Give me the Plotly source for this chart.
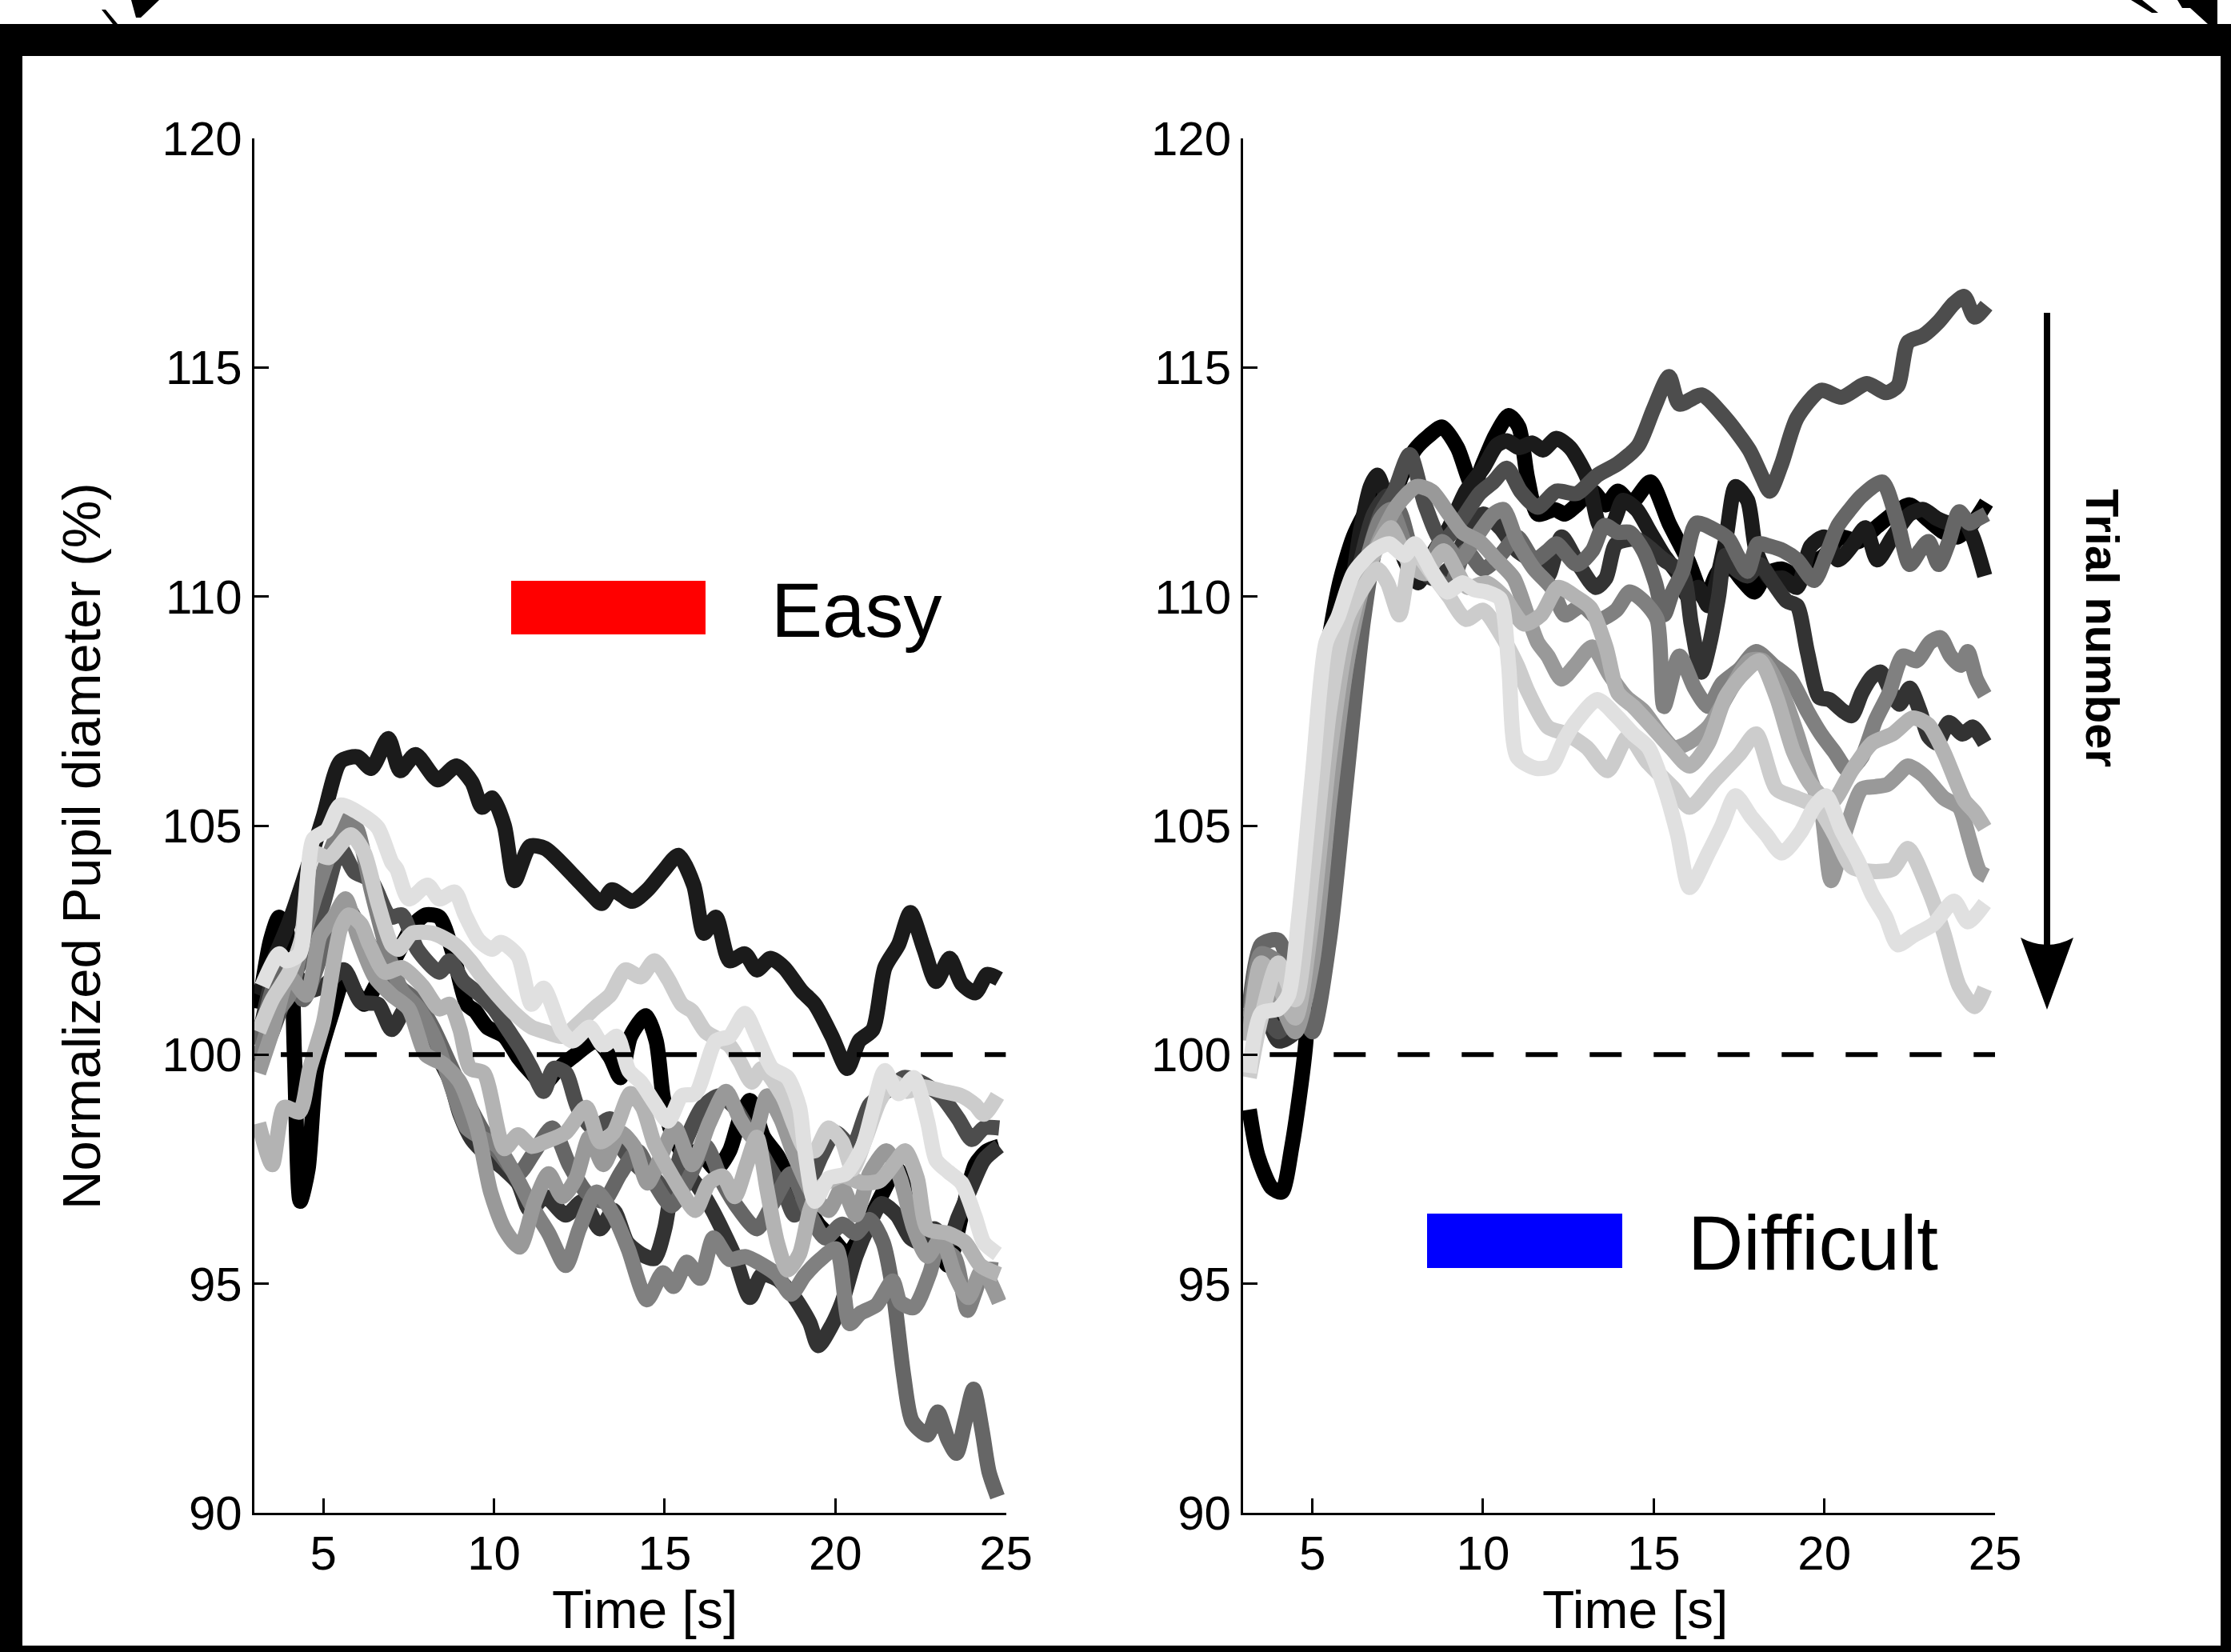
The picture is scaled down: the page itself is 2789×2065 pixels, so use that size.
import plotly.graph_objects as go

W, H = 2789, 2065

TRIAL_COLORS = ["#000000", "#1b1b1b", "#333333", "#4d4d4d", "#666666",
                "#808080", "#999999", "#b3b3b3", "#cccccc", "#e0e0e0"]

X_TICKS = [5, 10, 15, 20, 25]
Y_TICKS = [90, 95, 100, 105, 110, 115, 120]
X_RANGE = [2.97, 25.0]
Y_RANGE = [90, 120]
BASELINE = 100
BASELINE_T = [3.75, 25.0]

PANEL_TITLES = ["Easy", "Difficult"]
PANEL_COLORS = ["#ff0000", "#0000ff"]
X_TITLE = "Time [s]"
Y_TITLE = "Normalized Pupil diameter (%)"
ARROW_TEXT = "Trial number"

# ---------------- Easy condition (10 trials, dark -> light) ----------------
EASY_T0 = [3.1, 3.45, 3.7, 4.0, 4.15, 4.32, 4.55, 4.8, 5.25, 5.65, 5.95, 6.2, 6.6, 7.1, 7.6, 8.0, 8.4, 8.8, 9.2, 9.45,
           9.8, 10.3, 10.7, 11.1, 11.45, 11.9, 12.3, 13.0, 13.4, 13.7, 14.0, 14.45, 14.75, 14.95, 15.2, 15.6, 16.0, 16.5,
           16.9, 17.2, 17.5, 17.9, 18.3, 18.7, 19.1, 19.5, 19.9, 20.35, 20.7, 21.0, 21.4, 21.8, 22.2, 22.6, 23.0, 23.3,
           23.7, 24.1, 24.45, 24.8]
EASY_V0 = [101.0, 102.5, 103.0, 102.5, 100.0, 96.8, 97.5, 99.7, 100.9, 101.75, 101.35, 101.1, 101.6, 102.1, 102.8, 103.05,
           103.0, 102.2, 101.1, 100.95, 100.6, 100.4, 99.95, 99.6, 99.35, 99.7, 99.95, 100.3, 99.95, 99.5, 100.4, 100.85,
           100.3, 99.1, 98.3, 97.8, 97.9, 97.5, 97.9, 98.6, 99.0, 98.2, 97.8, 97.2, 96.8, 96.3, 96.0, 95.65, 96.0, 96.4,
           97.0, 97.5, 97.0, 96.3, 95.8, 95.4, 96.5, 97.6, 97.9, 98.0]

EASY_T1 = [3.1, 3.5, 4.0, 4.5, 5.0, 5.5, 6.0, 6.4, 6.9, 7.25, 7.7, 8.35, 8.9, 9.35, 9.65, 9.95, 10.3, 10.6, 11.05, 11.5,
           11.95, 12.4, 12.85, 13.15, 13.45, 14.05, 14.5, 14.95, 15.4, 15.85, 16.15, 16.5, 16.9, 17.35, 17.7, 18.1, 18.5,
           19.0, 19.4, 19.9, 20.35, 20.7, 21.1, 21.45, 21.85, 22.2, 22.6, 22.95, 23.35, 23.7, 24.1, 24.45, 24.8]
EASY_V1 = [101.3, 102.0, 102.9, 104.0, 105.2, 106.4, 106.5, 106.25, 106.9, 106.2, 106.55, 106.0, 106.3, 105.95, 105.4,
           105.6, 105.0, 103.8, 104.55, 104.5, 104.2, 103.85, 103.5, 103.3, 103.6, 103.35, 103.6, 104.0, 104.35, 103.7,
           102.65, 103.0, 102.05, 102.2, 101.85, 102.1, 101.9, 101.4, 101.1, 100.4, 99.7, 100.3, 100.55, 101.9, 102.4,
           103.1, 102.3, 101.6, 102.1, 101.55, 101.35, 101.75, 101.65]

EASY_T2 = [3.1, 3.6, 4.0, 4.5, 5.0, 5.6, 6.1, 6.6, 7.0, 7.45, 7.75, 8.1, 8.7, 9.0, 9.35, 9.8, 10.3, 10.7, 11.05, 11.5,
           12.1, 12.6, 13.1, 13.5, 13.9, 14.3, 14.7, 15.0, 15.2, 15.5, 15.9, 16.4, 17.05, 17.5, 17.85, 18.3, 18.8, 19.25,
           19.5, 19.9, 20.2, 20.6, 21.0, 21.35, 21.8, 22.2, 22.5, 22.9, 23.3, 23.6, 23.95, 24.35, 24.8]
EASY_V2 = [100.3, 101.8, 102.0, 101.4, 101.5, 101.85, 101.15, 101.1, 100.55, 101.05, 100.8, 100.3, 99.45, 98.7, 98.15,
           97.8, 97.5, 97.2, 96.6, 96.9, 96.5, 96.8, 96.2, 96.6, 95.9, 95.65, 95.55, 96.2, 97.0, 97.5, 97.2, 96.6, 95.6,
           94.7, 95.2, 95.1, 94.7, 94.15, 93.65, 94.1, 94.6, 95.6, 96.3, 96.75, 96.5, 96.0, 95.9, 96.2, 95.9, 96.45,
           97.05, 97.7, 98.0]

EASY_T3 = [3.1, 3.5, 4.0, 4.5, 5.0, 5.5, 5.9, 6.4, 6.95, 7.3, 7.75, 8.4, 8.7, 9.1, 9.6, 10.0, 10.4, 10.8, 11.1, 11.45,
           11.75, 12.1, 12.45, 12.9, 13.4, 13.8, 14.3, 14.7, 15.1, 15.5, 16.1, 16.6, 17.05, 17.5, 18.1, 18.5, 18.8, 19.2,
           19.6, 20.0, 20.5, 21.0, 21.5, 22.0, 22.5, 23.1, 23.6, 24.0, 24.35, 24.8]
EASY_V3 = [99.8, 100.5, 101.5, 102.3, 103.3, 104.5, 104.0, 103.8, 103.0, 103.05, 102.3, 101.8, 102.05, 101.6, 101.3,
           101.0, 100.55, 100.1, 99.7, 99.2, 99.7, 99.6, 98.85, 98.4, 98.6, 97.9, 97.5, 97.3, 97.0, 97.9, 98.85, 99.1,
           98.85, 98.3, 97.5, 97.0, 96.5, 97.1, 97.8, 98.3, 98.0, 98.9, 99.2, 99.5, 99.4, 99.1, 98.6, 98.15, 98.4, 98.4]

EASY_T4 = [3.1, 3.6, 4.0, 4.4, 5.0, 5.6, 6.2, 6.7, 7.2, 7.7, 8.2, 8.7, 9.2, 9.7, 10.2, 10.7, 11.2, 11.7, 12.2, 12.7,
           13.2, 13.7, 14.2, 14.7, 15.2, 15.7, 16.2, 16.7, 17.2, 17.7, 18.2, 18.7, 19.2, 19.7, 20.2, 20.6, 21.0, 21.4,
           21.7, 22.0, 22.25, 22.7, 23.0, 23.3, 23.55, 23.8, 24.05, 24.3, 24.5, 24.75]
EASY_V4 = [100.2, 101.6, 101.9, 101.2, 102.3, 103.3, 102.6, 102.0, 101.5, 101.2, 100.6, 99.8, 99.0, 98.3, 97.8, 97.4,
           97.9, 98.4, 97.6, 97.0, 96.8, 97.4, 97.9, 97.2, 96.7, 97.3, 98.0, 97.2, 96.6, 96.2, 96.8, 97.4, 96.6, 96.0,
           96.3, 96.1, 96.4, 95.9, 94.8, 93.0, 92.0, 91.7, 92.2, 91.6, 91.3, 92.0, 92.7, 91.8, 90.9, 90.35]

EASY_T5 = [3.1, 3.5, 4.0, 4.5, 5.0, 5.4, 5.7, 6.0, 6.4, 6.9, 7.3, 7.8, 8.3, 8.8, 9.2, 9.6, 10.1, 10.6, 11.1, 11.6,
           12.1, 12.5, 13.0, 13.5, 13.93, 14.48, 14.95, 15.26, 15.65, 16.04, 16.43, 16.9, 17.37, 18.0, 18.31, 18.7,
           19.1, 19.56, 20.03, 20.42, 20.74, 21.21, 21.68, 21.9, 22.3, 22.77, 23.0, 23.48, 23.87, 24.1, 24.34, 24.75]
EASY_V5 = [99.9, 100.8, 101.3, 102.8, 104.0, 104.8, 105.2, 104.9, 103.6, 102.2, 101.4, 101.0, 100.3, 99.2, 98.4, 98.2,
           98.0, 97.4, 96.7, 96.1, 95.4, 96.2, 97.0, 96.5, 95.76, 94.65, 95.24, 94.94, 95.47, 95.12, 96.0, 95.53, 95.59,
           95.35, 95.18, 94.77, 95.18, 95.53, 95.76, 94.13, 94.36, 94.54, 95.06, 94.6, 94.48, 95.24, 95.76, 95.59,
           94.42, 94.83, 95.3, 95.3]

EASY_T6 = [3.1, 3.5, 4.0, 4.5, 4.9, 5.3, 5.65, 6.0, 6.5, 7.0, 7.5, 8.0, 8.5, 9.0, 9.5, 9.9, 10.3, 10.75, 11.2, 11.6,
           12.0, 12.4, 12.8, 13.2, 13.7, 14.1, 14.5, 14.9, 15.3, 15.8, 16.3, 16.8, 17.2, 17.6, 18.0, 18.4, 18.8, 19.3,
           19.8, 20.2, 20.6, 21.0, 21.5, 21.9, 22.3, 22.7, 23.1, 23.5, 23.9, 24.3, 24.8]
EASY_V6 = [99.6, 100.5, 101.7, 101.3, 102.6, 103.0, 103.4, 102.6, 101.7, 101.3, 101.0, 100.0, 99.8, 99.4, 98.4, 97.0,
           96.2, 95.8, 96.8, 97.4, 96.9, 97.3, 98.2, 97.6, 98.3, 98.0, 97.2, 97.8, 98.4, 97.6, 98.5, 99.2, 98.6, 98.2,
           99.1, 98.6, 97.8, 97.0, 96.6, 97.1, 96.5, 97.4, 97.9, 97.3, 96.2, 95.6, 96.0, 95.2, 94.7, 95.3, 94.6]

EASY_T7 = [3.1, 3.5, 3.85, 4.3, 4.6, 5.0, 5.5, 5.75, 6.1, 6.35, 6.8, 7.3, 7.9, 8.4, 8.7, 9.0, 9.3, 9.7, 10.3, 10.7,
           11.1, 11.5, 12.1, 12.7, 13.1, 13.5, 14.0, 14.35, 14.7, 15.1, 15.5, 15.9, 16.3, 16.7, 17.05, 17.4, 17.7, 18.0,
           18.3, 18.6, 18.95, 19.25, 19.55, 20.2, 20.8, 21.3, 21.75, 22.05, 22.4, 22.7, 23.3, 23.8, 24.25, 24.8]
EASY_V7 = [98.5, 97.6, 98.85, 98.75, 99.7, 100.7, 102.75, 103.05, 102.85, 102.4, 101.8, 101.9, 101.5, 101.0, 101.1,
           100.55, 99.7, 99.6, 97.95, 98.25, 98.0, 98.1, 98.3, 98.85, 98.1, 98.3, 99.15, 98.85, 98.05, 97.5, 97.0, 96.6,
           97.2, 97.35, 96.9, 97.6, 98.2, 97.05, 95.9, 95.3, 95.65, 96.6, 97.1, 97.35, 97.2, 97.25, 97.65, 97.9, 97.3,
           96.2, 96.1, 95.9, 95.4, 95.2]

EASY_T8 = [3.1, 3.5, 4.0, 4.35, 4.7, 5.15, 5.8, 6.2, 6.6, 7.0, 7.2, 7.6, 8.2, 8.85, 9.3, 9.65, 10.1, 10.6, 11.1, 11.5,
           12.0, 12.5, 13.0, 13.4, 13.85, 14.3, 14.7, 15.1, 15.5, 15.8, 16.2, 16.9, 17.2, 17.55, 17.85, 18.45, 18.8,
           19.1, 19.4, 19.8, 20.2, 20.5, 20.9, 21.3, 21.7, 22.1, 22.55, 23.15, 23.7, 24.1, 24.35, 24.75]
EASY_V8 = [100.5, 101.2, 101.8, 102.5, 104.4, 104.3, 104.8, 104.4, 103.3, 102.4, 102.3, 102.65, 102.65, 102.4, 102.05,
           101.7, 101.3, 100.9, 100.6, 100.5, 100.4, 100.7, 101.05, 101.3, 101.85, 101.7, 102.05, 101.65, 101.1, 100.95,
           100.5, 100.2, 99.85, 99.4, 99.7, 99.1, 98.45, 97.95, 97.9, 98.4, 98.1, 97.5, 98.2, 99.0, 99.4, 99.2, 99.3,
           99.2, 99.1, 98.9, 98.7, 99.1]

EASY_T9 = [3.2, 3.7, 3.9, 4.3, 4.7, 5.1, 5.5, 6.2, 6.6, 7.0, 7.15, 7.5, 8.05, 8.4, 8.85, 9.15, 9.55, 9.95, 10.2, 10.7,
           11.1, 11.45, 12.0, 12.3, 12.8, 13.2, 13.6, 13.95, 14.3, 14.7, 15.1, 15.5, 15.9, 16.5, 16.9, 17.35, 17.7,
           18.15, 18.6, 18.95, 19.1, 19.4, 19.8, 20.3, 20.8, 21.1, 21.45, 21.85, 22.3, 22.7, 22.95, 23.3, 23.7, 24.1,
           24.35, 24.75]
EASY_V9 = [101.5, 102.2, 102.05, 102.2, 104.7, 104.9, 105.45, 105.2, 104.95, 104.2, 104.05, 103.4, 103.7, 103.4,
           103.55, 103.05, 102.5, 102.3, 102.45, 102.15, 101.1, 101.45, 100.5, 100.3, 100.6, 100.2, 100.4, 99.65, 99.4,
           98.95, 98.55, 99.1, 99.15, 100.3, 100.4, 100.9, 100.4, 99.7, 99.5, 98.85, 97.95, 96.8, 97.3, 97.4, 98.0,
           98.8, 99.65, 99.15, 99.5, 98.55, 97.7, 97.45, 97.2, 96.45, 95.9, 95.65]

# ---------------- Difficult condition (10 trials, dark -> light) ----------------
DIFF_T0 = [3.15, 3.4, 3.8, 4.1, 4.4, 4.8, 5.1, 5.4, 5.8, 6.2, 6.6, 7.0, 7.3, 7.6, 8.0, 8.4, 8.8, 9.25, 9.7, 10.0,
           10.35, 10.75, 11.05, 11.3, 11.6, 12.1, 12.4, 12.75, 13.2, 13.6, 13.95, 14.35, 14.9, 15.45, 16.0, 16.5, 16.9,
           17.3, 17.6, 17.95, 18.3, 18.75, 19.2, 19.6, 20.0, 20.5, 21.0, 21.5, 22.0, 22.5, 23.0, 23.5, 23.9, 24.35,
           24.75]
DIFF_V0 = [98.8, 97.8, 97.1, 97.0, 98.0, 100.2, 104.5, 108.6, 110.3, 111.3, 111.9, 112.3, 112.0, 112.6, 113.2, 113.5,
           113.7, 113.25, 112.4, 112.9, 113.5, 113.95, 113.7, 112.6, 111.8, 111.9, 111.8, 112.0, 112.3, 112.0, 112.3,
           112.05, 112.5, 111.6, 110.8, 109.95, 110.55, 110.6, 110.35, 110.1, 110.5, 110.6, 110.45, 110.7, 110.9,
           111.3, 111.2, 111.5, 111.8, 112.0, 111.7, 111.4, 111.3, 111.6, 112.05]

DIFF_T1 = [3.15, 3.5, 4.0, 4.5, 4.9, 5.2, 5.4, 5.8, 6.1, 6.4, 6.7, 6.9, 7.3, 7.7, 8.1, 8.5, 9.0, 9.5, 10.0, 10.4, 10.7,
           11.05, 11.45, 11.75, 12.15, 12.55, 12.85, 13.1, 13.45, 13.8, 14.1, 14.5, 14.9, 15.3, 15.7, 16.0, 16.3, 16.6,
           17.1, 17.4, 17.75, 18.0, 18.4, 18.8, 19.2, 19.6, 20.0, 20.4, 20.8, 21.2, 21.55, 22.0, 22.5, 22.9, 23.3,
           23.7, 24.05, 24.35, 24.7]
DIFF_V1 = [100.8, 101.6, 101.0, 100.6, 102.5, 106.0, 108.6, 109.3, 110.0, 111.4, 112.4, 112.65, 111.8, 110.8, 110.3,
           110.9, 111.5, 112.3, 112.8, 113.3, 113.4, 113.25, 113.35, 113.2, 113.45, 113.25, 112.9, 112.5, 111.5, 111.6,
           112.1, 111.9, 111.4, 110.9, 110.5, 110.0, 110.2, 109.8, 111.2, 112.4, 112.1, 111.0, 110.4, 110.4, 110.2,
           111.1, 111.3, 110.8, 111.1, 111.5, 110.8, 111.3, 111.8, 111.9, 111.7, 111.6, 111.7, 111.3, 110.45]

DIFF_T2 = [3.15, 3.5, 4.0, 4.5, 5.0, 5.5, 6.0, 6.4, 6.8, 7.2, 7.6, 8.0, 8.5, 9.0, 9.5, 10.0, 10.5, 11.0, 11.6, 11.9,
           12.3, 12.8, 13.3, 13.6, 13.9, 14.5, 15.3, 15.85, 16.1, 16.4, 16.65, 16.9, 17.1, 17.4, 17.75, 18.1, 18.5,
           18.9, 19.2, 19.5, 19.85, 20.15, 20.55, 20.8, 21.1, 21.4, 21.65, 21.9, 22.2, 22.5, 22.8, 23.05, 23.3, 23.65,
           24.05, 24.35, 24.7]
DIFF_V2 = [100.5, 101.2, 100.3, 100.5, 102.5, 106.0, 109.0, 110.7, 111.8, 112.2, 111.5, 110.8, 110.4, 110.6, 111.3,
           111.8, 111.5, 111.0, 110.7, 110.45, 111.3, 110.7, 110.2, 110.4, 111.15, 111.25, 110.8, 110.5, 109.4, 108.35,
           109.0, 110.0, 110.9, 110.6, 110.45, 110.7, 110.3, 109.9, 109.8, 108.8, 107.8, 107.75, 107.5, 107.4, 107.9,
           108.25, 108.35, 108.0, 107.65, 108.0, 107.5, 106.95, 106.8, 107.25, 107.0, 107.15, 106.8]

DIFF_T3 = [3.15, 3.5, 4.0, 4.5, 5.0, 5.5, 6.0, 6.5, 7.0, 7.4, 7.85, 8.3, 8.8, 9.3, 9.9, 10.3, 10.7, 11.1, 11.6, 12.15,
           12.75, 13.35, 13.95, 14.55, 15.0, 15.45, 15.75, 16.4, 17.1, 17.8, 18.15, 18.4, 18.75, 19.2, 19.9, 20.5,
           21.25, 21.8, 22.15, 22.45, 22.9, 23.35, 23.8, 24.1, 24.4, 24.75]
DIFF_V3 = [100.5, 101.0, 100.5, 101.0, 102.5, 105.5, 108.5, 110.5, 111.8, 112.3, 113.1, 112.0, 111.2, 111.6, 112.25,
           112.5, 112.8, 112.3, 111.95, 112.3, 112.25, 112.65, 112.9, 113.3, 114.1, 114.8, 114.2, 114.4, 113.9, 113.2,
           112.65, 112.3, 112.9, 113.9, 114.5, 114.35, 114.65, 114.45, 114.6, 115.55, 115.7, 116.0, 116.4, 116.55,
           116.1, 116.35]

DIFF_T4 = [3.15, 3.5, 4.0, 4.5, 5.0, 5.5, 6.0, 6.5, 6.9, 7.5, 8.0, 8.5, 9.0, 9.5, 10.0, 10.5, 11.0, 11.5, 11.9, 12.15,
           12.75, 13.2, 13.55, 13.95, 14.3, 14.7, 15.05, 15.3, 15.55, 15.85, 16.25, 16.8, 17.2, 17.45, 17.75, 18.05,
           18.4, 18.8, 19.2, 19.7, 20.05, 20.4, 20.75, 21.1, 21.7, 22.15, 22.5, 22.8, 23.05, 23.35, 23.65, 23.95,
           24.25, 24.5, 24.75]
DIFF_V4 = [101.0, 102.4, 102.5, 101.5, 100.5, 102.5, 106.0, 109.5, 111.2, 111.9, 110.8, 110.5, 110.2, 111.0, 110.6,
           110.9, 111.3, 110.8, 111.0, 111.15, 110.7, 111.0, 111.55, 111.4, 111.4, 111.0, 110.3, 109.6, 110.1, 110.55,
           111.6, 111.45, 111.25, 110.9, 110.55, 111.15, 111.1, 111.0, 110.8, 110.35, 110.9, 111.55, 111.9, 112.2,
           112.5, 111.6, 110.7, 111.0, 111.2, 110.7, 111.2, 111.85, 111.6, 111.7, 111.8]

DIFF_T5 = [3.15, 3.5, 4.0, 4.5, 5.0, 5.5, 6.0, 6.5, 7.0, 7.3, 7.8, 8.3, 8.8, 9.3, 9.8, 10.3, 10.6, 11.0, 11.5, 12.0,
           12.4, 12.9, 13.4, 13.9, 14.3, 14.7, 15.1, 15.3, 15.75, 16.2, 16.6, 17.0, 17.5, 18.0, 18.5, 19.0, 19.5, 19.9,
           20.3, 20.7, 21.1, 21.5, 21.9, 22.3, 22.7, 23.1, 23.4, 23.7, 24.0, 24.2, 24.45, 24.7]
DIFF_V5 = [100.5, 102.2, 102.0, 100.8, 102.5, 106.0, 108.5, 110.5, 111.7, 111.9, 111.0, 110.6, 111.2, 110.8, 111.3,
           111.8, 111.9, 111.2, 110.6, 110.2, 109.6, 109.8, 109.5, 109.7, 110.1, 109.9, 109.5, 107.6, 108.7, 108.0,
           107.6, 108.1, 108.4, 108.8, 108.5, 108.2, 107.5, 107.0, 106.6, 106.2, 106.5, 107.3, 107.9, 108.7, 108.6,
           109.0, 109.1, 108.7, 108.5, 108.8, 108.2, 107.85]

DIFF_T6 = [3.15, 3.5, 4.0, 4.5, 5.0, 5.5, 6.0, 6.5, 7.0, 7.5, 8.05, 8.5, 9.0, 9.4, 9.9, 10.4, 10.9, 11.3, 11.6, 11.9,
           12.3, 12.7, 13.2, 13.7, 14.2, 14.7, 15.2, 15.6, 16.0, 16.6, 17.2, 17.8, 18.2, 18.7, 19.2, 19.6, 19.9, 20.2,
           20.65, 21.1, 21.5, 21.85, 22.15, 22.45, 22.9, 23.5, 23.95, 24.25, 24.55, 24.75]
DIFF_V6 = [100.8, 101.5, 101.2, 100.5, 102.0, 105.5, 108.5, 110.3, 111.3, 112.0, 112.4, 112.3, 111.8, 111.4, 111.2,
           110.8, 110.4, 109.6, 109.0, 108.7, 108.2, 108.5, 108.9, 108.3, 107.8, 107.5, 107.0, 106.7, 106.8, 107.15,
           107.9, 108.6, 108.6, 108.0, 107.0, 106.0, 105.4, 103.8, 104.95, 105.8, 105.85, 105.9, 106.1, 106.3, 106.1,
           105.6, 105.4, 104.7, 104.0, 103.9]

DIFF_T7 = [3.15, 3.5, 4.0, 4.5, 5.0, 5.5, 6.0, 6.5, 7.0, 7.3, 7.85, 8.3, 8.85, 9.55, 10.1, 10.6, 11.2, 11.7, 12.2,
           12.7, 13.15, 13.6, 13.95, 14.4, 14.9, 15.5, 16.05, 16.6, 17.1, 17.6, 18.1, 18.6, 19.1, 19.6, 20.2, 20.8,
           21.4, 22.0, 22.6, 23.05, 23.5, 24.1, 24.4, 24.7]
DIFF_V7 = [100.3, 102.0, 101.5, 100.8, 103.0, 106.5, 109.0, 110.4, 111.2, 111.5, 110.7, 110.5, 111.0, 110.2, 110.3,
           110.0, 109.4, 109.6, 110.2, 110.0, 109.75, 108.9, 107.9, 107.6, 107.2, 106.7, 106.3, 106.8, 107.8, 108.3,
           108.6, 107.8, 106.6, 105.9, 105.5, 106.2, 106.8, 107.0, 107.35, 107.2, 106.6, 105.55, 105.3, 104.95]

DIFF_T8 = [3.15, 3.5, 4.0, 4.5, 5.0, 5.5, 6.0, 6.5, 6.9, 7.2, 7.55, 7.95, 8.5, 9.0, 9.5, 10.0, 10.5, 11.0, 11.3, 11.9,
           12.45, 13.05, 13.65, 14.25, 14.8, 15.6, 16.05, 16.8, 17.5, 18.0, 18.6, 19.2, 19.8, 20.3, 20.8, 21.4, 22.0,
           22.45, 23.05, 23.5, 23.95, 24.4, 24.7]
DIFF_V8 = [99.5, 100.8, 102.0, 101.2, 104.0, 107.5, 109.5, 110.2, 110.6, 110.3, 109.6, 111.0, 110.5, 110.0, 109.5,
           109.7, 109.2, 108.5, 107.95, 107.15, 107.0, 106.7, 106.2, 106.95, 106.4, 105.8, 105.4, 106.0, 106.55, 107.0,
           105.8, 105.6, 105.4, 104.8, 104.1, 104.0, 104.05, 104.5, 103.6, 102.65, 101.5, 101.05, 101.45]

DIFF_T9 = [3.15, 3.5, 4.0, 4.3, 4.6, 5.0, 5.4, 5.75, 6.2, 6.8, 7.25, 7.7, 8.0, 8.5, 8.95, 9.4, 9.75, 10.1, 10.5, 10.75,
           11.0, 11.55, 12.0, 12.4, 12.75, 13.35, 13.9, 14.4, 14.85, 15.3, 15.7, 16.05, 16.6, 17.0, 17.4, 17.85, 18.3,
           18.75, 19.3, 19.7, 20.05, 20.5, 21.0, 21.4, 21.8, 22.15, 22.6, 23.2, 23.8, 24.2, 24.7]
DIFF_V9 = [99.6, 100.9, 101.0, 101.3, 103.0, 106.1, 109.0, 109.55, 110.5, 111.0, 111.15, 110.9, 111.15, 110.55, 110.1,
           110.3, 110.15, 110.1, 109.95, 108.5, 106.5, 106.25, 106.3, 106.9, 107.3, 107.75, 107.4, 107.0, 106.7, 105.85,
           104.8, 103.65, 104.4, 105.0, 105.65, 105.2, 104.8, 104.4, 104.85, 105.4, 105.65, 104.9, 104.2, 103.5, 103.0,
           102.4, 102.6, 102.85, 103.35, 102.9, 103.3]

EASY = [(EASY_T0, EASY_V0), (EASY_T1, EASY_V1), (EASY_T2, EASY_V2), (EASY_T3, EASY_V3), (EASY_T4, EASY_V4),
        (EASY_T5, EASY_V5), (EASY_T6, EASY_V6), (EASY_T7, EASY_V7), (EASY_T8, EASY_V8), (EASY_T9, EASY_V9)]
DIFF = [(DIFF_T0, DIFF_V0), (DIFF_T1, DIFF_V1), (DIFF_T2, DIFF_V2), (DIFF_T3, DIFF_V3), (DIFF_T4, DIFF_V4),
        (DIFF_T5, DIFF_V5), (DIFF_T6, DIFF_V6), (DIFF_T7, DIFF_V7), (DIFF_T8, DIFF_V8), (DIFF_T9, DIFF_V9)]

FONT = "Liberation Sans, Arial, Helvetica, sans-serif"


def px(x):
    return x / W


def py(y):
    return 1 - y / H


# plot-area pixel boxes (left, right, top, bottom)
LEFT_BOX = (317.7, 1257.6, 173.0, 1891.0)
RIGHT_BOX = (1554.0, 2494.0, 173.0, 1891.0)

fig = go.Figure()

for panel, (xa, ya) in zip([EASY, DIFF], [("x", "y"), ("x2", "y2")]):
    for i, (t, v) in enumerate(panel):
        fig.add_trace(go.Scatter(
            x=t, y=v, mode="lines", xaxis=xa, yaxis=ya,
            line=dict(color=TRIAL_COLORS[i], width=19, shape="spline", smoothing=0.7),
            showlegend=False, hoverinfo="skip"))
    fig.add_trace(go.Scatter(
        x=BASELINE_T, y=[BASELINE, BASELINE], mode="lines", xaxis=xa, yaxis=ya,
        line=dict(color="black", width=6, dash="40px,40px"),
        showlegend=False, hoverinfo="skip"))

axis_common = dict(
    showline=True, linecolor="black", linewidth=3, ticks="inside", ticklen=18, tickwidth=3,
    tickcolor="black", showgrid=False, zeroline=False, mirror=False, automargin=False,
    tickfont=dict(family=FONT, size=60, color="black"),
)

fig.update_layout(
    template="none",
    autosize=False,
    width=W, height=H,
    margin=dict(l=0, r=0, t=0, b=0, pad=0, autoexpand=False),
    showlegend=False,
    paper_bgcolor="white", plot_bgcolor="rgba(0,0,0,0)",
    xaxis=dict(domain=[px(LEFT_BOX[0]), px(LEFT_BOX[1])], range=X_RANGE, tickvals=X_TICKS,
               anchor="y", ticklabelstandoff=-4, **axis_common),
    yaxis=dict(domain=[py(LEFT_BOX[3]), py(LEFT_BOX[2])], range=Y_RANGE, tickvals=Y_TICKS,
               anchor="x", ticklabelstandoff=0, **axis_common),
    xaxis2=dict(domain=[px(RIGHT_BOX[0]), px(RIGHT_BOX[1])], range=X_RANGE, tickvals=X_TICKS,
                anchor="y2", ticklabelstandoff=-4, **axis_common),
    yaxis2=dict(domain=[py(RIGHT_BOX[3]), py(RIGHT_BOX[2])], range=Y_RANGE, tickvals=Y_TICKS,
                anchor="x2", ticklabelstandoff=0, **axis_common),
)

shapes = []


def rect(x0, y0, x1, y1, color):
    return dict(type="rect", xref="paper", yref="paper", x0=px(x0), x1=px(x1), y0=py(y1), y1=py(y0),
                fillcolor=color, line=dict(width=0), layer="above")


def poly(points, color="black"):
    d = "M " + " L ".join(f"{px(x):.6f},{py(y):.6f}" for x, y in points) + " Z"
    return dict(type="path", xref="paper", yref="paper", path=d, fillcolor=color,
                line=dict(width=0), layer="above")


# outer frame
shapes.append(rect(0, 30, W, 70, "black"))
shapes.append(rect(0, 30, 28, H, "black"))
shapes.append(rect(2776, 30, W, H, "black"))
shapes.append(rect(0, 2057, W, H, "black"))
# clipped decorations above the frame
shapes.append(poly([(127, 12), (132, 12), (147, 30), (141, 30)]))
shapes.append(poly([(164, 0), (199, 0), (176, 22), (170, 22)]))
shapes.append(poly([(2664, 0), (2678, 0), (2698, 16), (2690, 16)]))
shapes.append(poly([(2722, 0), (2772, 0), (2772, 30), (2760, 30), (2738, 10), (2728, 10)]))

# legend swatches
shapes.append(rect(639, 726, 882, 793, PANEL_COLORS[0]))
shapes.append(rect(1784, 1517, 2028, 1585, PANEL_COLORS[1]))

# trial-number arrow
shapes.append(dict(type="line", xref="paper", yref="paper", x0=px(2559), x1=px(2559), y0=py(391), y1=py(1185),
                   line=dict(color="black", width=8), layer="above"))
head = (f"M {px(2526):.6f},{py(1172):.6f} Q {px(2559):.6f},{py(1190):.6f} {px(2592):.6f},{py(1172):.6f} "
        f"L {px(2559):.6f},{py(1262):.6f} Z")
shapes.append(dict(type="path", xref="paper", yref="paper", path=head, fillcolor="black",
                   line=dict(width=0), layer="above"))

annotations = []


def label(text, x, y, size, xanchor="center", yanchor="middle", angle=0, bold=False):
    return dict(text=f"<b>{text}</b>" if bold else text, x=px(x), y=py(y), xref="paper", yref="paper",
                showarrow=False, xanchor=xanchor, yanchor=yanchor, textangle=angle,
                font=dict(family=FONT, size=size, color="black"))


annotations.append(label(Y_TITLE, 101, 1058, 67, angle=-90))
annotations.append(label(X_TITLE, 806, 2012, 66))
annotations.append(label(X_TITLE, 2044, 2012, 66))
annotations.append(label(PANEL_TITLES[0], 962, 762, 96, xanchor="left"))
annotations.append(label(PANEL_TITLES[1], 2108, 1553, 96, xanchor="left"))
annotations.append(label(ARROW_TEXT, 2628, 785, 58, angle=90, bold=True))

fig.update_layout(shapes=shapes, annotations=annotations)

fig.write_html("out.html", include_plotlyjs=True, config={"displayModeBar": False, "responsive": False},
               post_script="document.body.style.margin='0';document.body.style.overflow='hidden';")
